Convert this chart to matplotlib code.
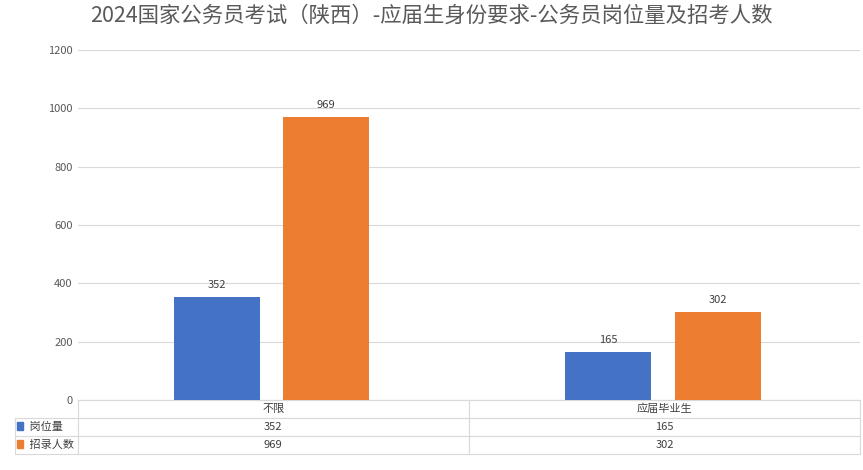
import matplotlib.pyplot as plt
import numpy as np
from matplotlib.patches import Rectangle

plt.rcParams['font.family'] = ['Noto Sans CJK SC', 'DejaVu Sans']

categories = ['不限', '应届毕业生']
series_names = ['岗位量', '招录人数']
posts = [352, 165]
hires = [969, 302]
colors = ['#4472C4', '#ED7D31']

fig = plt.figure(figsize=(8.63, 4.70), dpi=100)
ax = fig.add_axes([0.090, 0.149, 0.907, 0.745])

x = np.arange(len(categories))
w = 0.22
gap = 0.03
b1 = ax.bar(x - w / 2 - gap - 0.005, posts, w, color=colors[0], zorder=3)
b2 = ax.bar(x + w / 2 + gap - 0.005, hires, w, color=colors[1], zorder=3)
for bars in (b1, b2):
    for r in bars:
        ax.text(r.get_x() + r.get_width() / 2, r.get_height() + 25, str(int(r.get_height())),
                ha='center', va='bottom', fontsize=8, color='#404040')

ax.set_xlim(-0.5, 1.5)
ax.set_ylim(0, 1200)
ax.set_yticks(range(0, 1201, 200))
ax.tick_params(axis='y', labelsize=8, colors='#595959', length=0)
ax.set_xticks([])
ax.grid(axis='y', color='#D9D9D9', linewidth=0.8, zorder=0)
for s in ['top', 'right', 'left']:
    ax.spines[s].set_visible(False)
ax.spines['bottom'].set_color('#D9D9D9')

# data table under the chart
rows = [[str(v) for v in posts], [str(v) for v in hires]]
tbl = ax.table(cellText=[categories] + rows,
               rowLabels=['', '   ' + series_names[0], '   ' + series_names[1]],
               cellLoc='center', rowLoc='left',
               bbox=[0, -0.154, 1, 0.154])
tbl.auto_set_font_size(False)
for (r, c), cell in tbl.get_celld().items():
    cell.set_edgecolor('#D9D9D9')
    cell.set_linewidth(0.8)
    cell.get_text().set_fontsize(8)
    cell.get_text().set_color('#404040')
    if c == -1:
        cell.set_width(0.084)
    if r == 0 and c == -1:
        cell.set_edgecolor('white')

for i, col in enumerate(colors):
    ax.add_patch(Rectangle((-0.078, -0.085 - i * 0.052), 0.008, 0.022,
                           transform=ax.transAxes, color=col, clip_on=False))

fig.suptitle('2024国家公务员考试（陕西）-应届生身份要求-公务员岗位量及招考人数',
             fontsize=15.4, color='#595959', y=0.99)

fig.savefig('out.png', dpi=100)
